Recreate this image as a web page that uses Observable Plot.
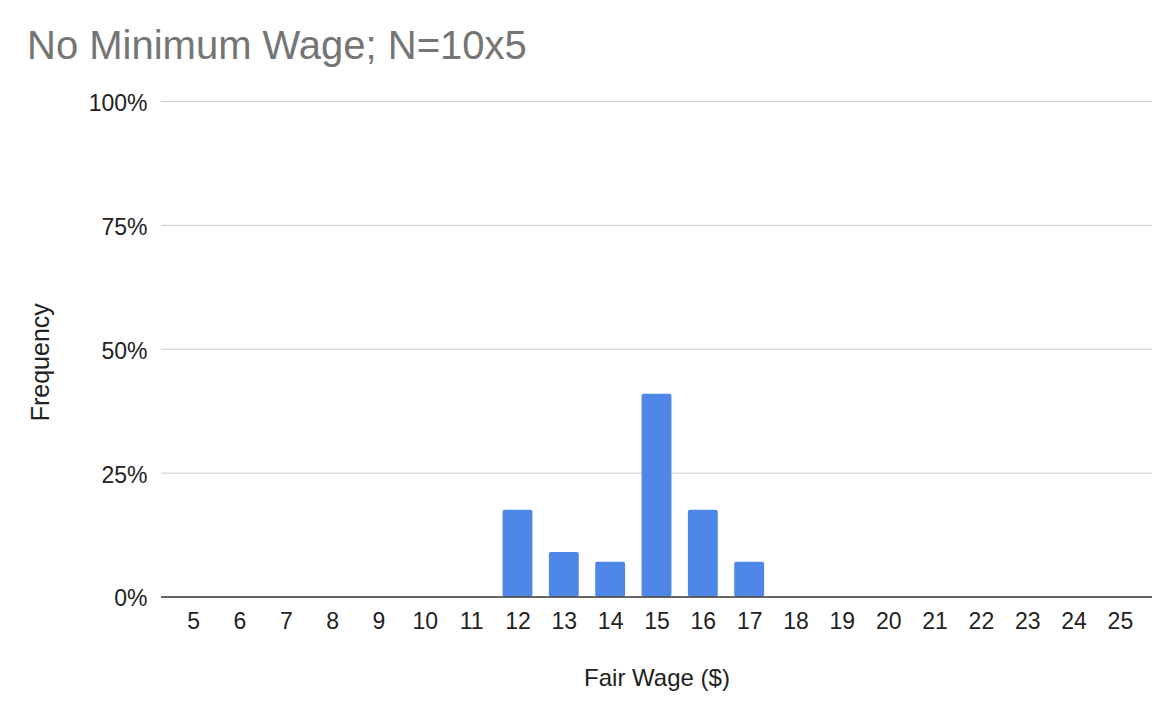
<!DOCTYPE html>
<html>
<head>
<meta charset="utf-8">
<script src="https://cdn.jsdelivr.net/npm/d3@7"></script>
<script src="https://cdn.jsdelivr.net/npm/@observablehq/plot@0.6"></script>
<style>
  html, body { margin: 0; padding: 0; background: #fff; }
  #wrap { width: 1174px; height: 718px; overflow: hidden; font-family: "Liberation Sans", Arial, sans-serif; }
  #title { box-sizing: border-box; height: 80px; padding: 25px 0 0 27px; font-size: 40px; line-height: 40px; color: #757575; white-space: nowrap; }
  svg { display: block; }
</style>
</head>
<body>
<div id="wrap">
  <div id="title">No Minimum Wage; N=10x5</div>
  <div id="chart"></div>
</div>
<script>
const wages = ["5","6","7","8","9","10","11","12","13","14","15","16","17","18","19","20","21","22","23","24","25"];
const frequencies = [0,0,0,0,0,0,0,0.175,0.09,0.07,0.409,0.175,0.07,0,0,0,0,0,0,0,0];
const yTicks = [0, 0.25, 0.5, 0.75, 1];
const yTickLabels = ["0%", "25%", "50%", "75%", "100%"];
const xTitle = "Fair Wage ($)";
const yTitle = "Frequency";

const data = wages.map((w, i) => ({wage: w, freq: frequencies[i]}));

const chart = Plot.plot({
  width: 1174,
  height: 638,
  marginTop: 21,
  marginBottom: 121.5,
  marginLeft: 161,
  marginRight: 22,
  style: {fontFamily: "'Liberation Sans', Arial, sans-serif", fontSize: "23px", color: "#222", background: "#fff"},
  x: {domain: wages, paddingInner: 0.355, paddingOuter: 0.37, align: 0.5, round: false, label: null},
  y: {domain: [0, 1], label: null},
  marks: [
    Plot.ruleY(yTicks.filter(d => d > 0), {stroke: "#cccccc", strokeWidth: 1}),
    Plot.barY(data.filter(d => d.freq > 0), {x: "wage", y: "freq", fill: "#4f87e9", rx: 2}),
    Plot.ruleY([0], {stroke: "#333333", strokeWidth: 1.5}),
    Plot.axisX({tickSize: 0, tickPadding: 15.5, label: null, fontSize: 23}),
    Plot.axisY({ticks: yTicks, tickSize: 0, tickPadding: 14, dy: 2, label: null, fontSize: 23,
      tickFormat: d => yTickLabels[yTicks.indexOf(d)]}),
    Plot.text([xTitle], {frameAnchor: "bottom", dy: 89, fontSize: 24, fill: "#222", textAnchor: "middle", text: d => d}),
    Plot.text([yTitle], {frameAnchor: "left", dx: -121, dy: 13, rotate: -90, fontSize: 25, fill: "#222", textAnchor: "middle", text: d => d})
  ]
});
document.getElementById("chart").appendChild(chart);
</script>
</body>
</html>
